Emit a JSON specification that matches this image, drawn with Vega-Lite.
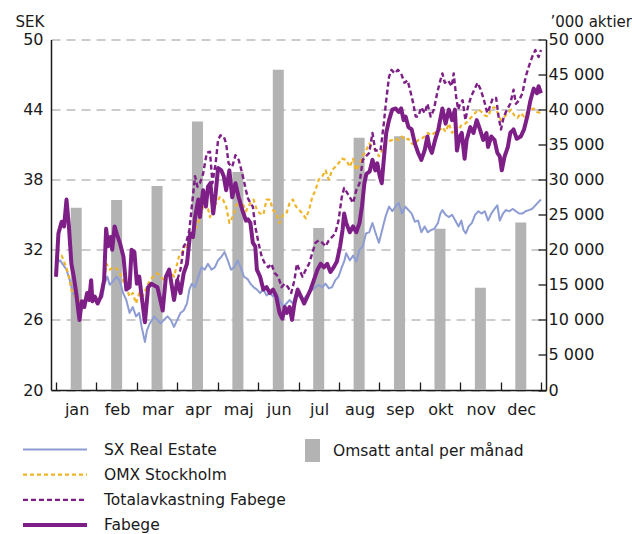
{
 "$schema": "https://vega.github.io/schema/vega-lite/v6.json",
 "width": 495, "height": 350.5,
 "autosize": {"type": "none"},
 "padding": {"left": 51, "top": 39.5, "right": 86, "bottom": 144},
 "background": "white",
 "config": {
  "view": {"stroke": null},
  "font": "DejaVu Sans",
  "axis": {"labelFont": "DejaVu Sans", "labelFontSize": 16, "labelColor": "#1a1a1a", "titleFont": "DejaVu Sans", "titleFontSize": 15, "titleFontWeight": "normal", "titleColor": "#1a1a1a", "domainColor": "#1a1a1a", "tickColor": "#1a1a1a", "domainWidth": 1.5, "tickWidth": 1.3},
  "legend": {"labelFont": "DejaVu Sans", "labelFontSize": 15.5, "labelColor": "#1a1a1a", "labelLimit": 400, "padding": 0, "offset": 0}
 },
 "datasets": {
  "staplar": [
   {"t": 0.5, "antal": 26000, "kat": "Omsatt antal per månad"},
   {"t": 1.5, "antal": 27100, "kat": "Omsatt antal per månad"},
   {"t": 2.5, "antal": 29100, "kat": "Omsatt antal per månad"},
   {"t": 3.5, "antal": 38300, "kat": "Omsatt antal per månad"},
   {"t": 4.5, "antal": 31100, "kat": "Omsatt antal per månad"},
   {"t": 5.5, "antal": 45700, "kat": "Omsatt antal per månad"},
   {"t": 6.5, "antal": 23100, "kat": "Omsatt antal per månad"},
   {"t": 7.5, "antal": 36000, "kat": "Omsatt antal per månad"},
   {"t": 8.5, "antal": 36200, "kat": "Omsatt antal per månad"},
   {"t": 9.5, "antal": 23000, "kat": "Omsatt antal per månad"},
   {"t": 10.5, "antal": 14600, "kat": "Omsatt antal per månad"},
   {"t": 11.5, "antal": 23900, "kat": "Omsatt antal per månad"}
  ],
  "linjer": [
   {"serie":"SX Real Estate","t":0,"sek":30.8},{"serie":"SX Real Estate","t":0.1,"sek":31.1},{"serie":"SX Real Estate","t":0.18,"sek":30.7},{"serie":"SX Real Estate","t":0.26,"sek":30.3},{"serie":"SX Real Estate","t":0.34,"sek":29.4},{"serie":"SX Real Estate","t":0.42,"sek":28.3},{"serie":"SX Real Estate","t":0.5,"sek":27.8},{"serie":"SX Real Estate","t":0.58,"sek":27.6},{"serie":"SX Real Estate","t":0.66,"sek":27.6},{"serie":"SX Real Estate","t":0.74,"sek":27.8},{"serie":"SX Real Estate","t":0.82,"sek":28.0},{"serie":"SX Real Estate","t":0.9,"sek":27.7},{"serie":"SX Real Estate","t":0.99,"sek":27.6},{"serie":"SX Real Estate","t":1.07,"sek":27.7},{"serie":"SX Real Estate","t":1.15,"sek":28.0},{"serie":"SX Real Estate","t":1.2,"sek":29.1},{"serie":"SX Real Estate","t":1.27,"sek":29.7},{"serie":"SX Real Estate","t":1.33,"sek":29.0},{"serie":"SX Real Estate","t":1.41,"sek":29.3},{"serie":"SX Real Estate","t":1.5,"sek":29.7},{"serie":"SX Real Estate","t":1.58,"sek":29.3},{"serie":"SX Real Estate","t":1.66,"sek":28.3},{"serie":"SX Real Estate","t":1.74,"sek":27.7},{"serie":"SX Real Estate","t":1.82,"sek":26.6},{"serie":"SX Real Estate","t":1.9,"sek":27.1},{"serie":"SX Real Estate","t":1.98,"sek":26.3},{"serie":"SX Real Estate","t":2.06,"sek":26.6},{"serie":"SX Real Estate","t":2.12,"sek":25.4},{"serie":"SX Real Estate","t":2.2,"sek":24.1},{"serie":"SX Real Estate","t":2.25,"sek":25.1},{"serie":"SX Real Estate","t":2.32,"sek":25.7},{"serie":"SX Real Estate","t":2.38,"sek":26.0},{"serie":"SX Real Estate","t":2.43,"sek":26.3},{"serie":"SX Real Estate","t":2.51,"sek":26.0},{"serie":"SX Real Estate","t":2.59,"sek":25.7},{"serie":"SX Real Estate","t":2.67,"sek":26.0},{"serie":"SX Real Estate","t":2.76,"sek":26.3},{"serie":"SX Real Estate","t":2.84,"sek":26.0},{"serie":"SX Real Estate","t":2.92,"sek":25.4},{"serie":"SX Real Estate","t":3.0,"sek":26.0},{"serie":"SX Real Estate","t":3.08,"sek":26.6},{"serie":"SX Real Estate","t":3.16,"sek":26.8},{"serie":"SX Real Estate","t":3.24,"sek":27.4},{"serie":"SX Real Estate","t":3.3,"sek":28.6},{"serie":"SX Real Estate","t":3.36,"sek":29.1},{"serie":"SX Real Estate","t":3.44,"sek":28.8},{"serie":"SX Real Estate","t":3.52,"sek":29.7},{"serie":"SX Real Estate","t":3.6,"sek":30.5},{"serie":"SX Real Estate","t":3.68,"sek":30.3},{"serie":"SX Real Estate","t":3.76,"sek":30.8},{"serie":"SX Real Estate","t":3.85,"sek":30.3},{"serie":"SX Real Estate","t":3.93,"sek":30.5},{"serie":"SX Real Estate","t":4.01,"sek":31.1},{"serie":"SX Real Estate","t":4.09,"sek":31.4},{"serie":"SX Real Estate","t":4.17,"sek":31.8},{"serie":"SX Real Estate","t":4.25,"sek":31.1},{"serie":"SX Real Estate","t":4.33,"sek":30.3},{"serie":"SX Real Estate","t":4.41,"sek":30.5},{"serie":"SX Real Estate","t":4.49,"sek":31.1},{"serie":"SX Real Estate","t":4.57,"sek":30.5},{"serie":"SX Real Estate","t":4.65,"sek":29.7},{"serie":"SX Real Estate","t":4.74,"sek":29.5},{"serie":"SX Real Estate","t":4.81,"sek":29.1},{"serie":"SX Real Estate","t":4.89,"sek":28.8},{"serie":"SX Real Estate","t":4.97,"sek":28.6},{"serie":"SX Real Estate","t":5.05,"sek":28.3},{"serie":"SX Real Estate","t":5.13,"sek":28.6},{"serie":"SX Real Estate","t":5.21,"sek":28.1},{"serie":"SX Real Estate","t":5.29,"sek":28.3},{"serie":"SX Real Estate","t":5.37,"sek":28.0},{"serie":"SX Real Estate","t":5.45,"sek":28.3},{"serie":"SX Real Estate","t":5.53,"sek":27.7},{"serie":"SX Real Estate","t":5.62,"sek":27.1},{"serie":"SX Real Estate","t":5.7,"sek":27.4},{"serie":"SX Real Estate","t":5.78,"sek":27.7},{"serie":"SX Real Estate","t":5.86,"sek":27.4},{"serie":"SX Real Estate","t":5.94,"sek":28.3},{"serie":"SX Real Estate","t":6.02,"sek":28.0},{"serie":"SX Real Estate","t":6.1,"sek":27.7},{"serie":"SX Real Estate","t":6.18,"sek":28.0},{"serie":"SX Real Estate","t":6.26,"sek":28.3},{"serie":"SX Real Estate","t":6.34,"sek":28.6},{"serie":"SX Real Estate","t":6.42,"sek":28.8},{"serie":"SX Real Estate","t":6.5,"sek":29.0},{"serie":"SX Real Estate","t":6.59,"sek":28.8},{"serie":"SX Real Estate","t":6.67,"sek":29.1},{"serie":"SX Real Estate","t":6.75,"sek":28.7},{"serie":"SX Real Estate","t":6.83,"sek":28.8},{"serie":"SX Real Estate","t":6.91,"sek":29.4},{"serie":"SX Real Estate","t":6.99,"sek":29.7},{"serie":"SX Real Estate","t":7.07,"sek":30.5},{"serie":"SX Real Estate","t":7.13,"sek":31.0},{"serie":"SX Real Estate","t":7.18,"sek":31.7},{"serie":"SX Real Estate","t":7.27,"sek":31.1},{"serie":"SX Real Estate","t":7.35,"sek":31.5},{"serie":"SX Real Estate","t":7.43,"sek":31.0},{"serie":"SX Real Estate","t":7.51,"sek":32.0},{"serie":"SX Real Estate","t":7.59,"sek":32.3},{"serie":"SX Real Estate","t":7.67,"sek":33.4},{"serie":"SX Real Estate","t":7.75,"sek":33.5},{"serie":"SX Real Estate","t":7.83,"sek":34.3},{"serie":"SX Real Estate","t":7.91,"sek":33.4},{"serie":"SX Real Estate","t":7.99,"sek":32.6},{"serie":"SX Real Estate","t":8.07,"sek":33.7},{"serie":"SX Real Estate","t":8.15,"sek":34.8},{"serie":"SX Real Estate","t":8.24,"sek":35.7},{"serie":"SX Real Estate","t":8.32,"sek":35.3},{"serie":"SX Real Estate","t":8.4,"sek":35.7},{"serie":"SX Real Estate","t":8.48,"sek":36.0},{"serie":"SX Real Estate","t":8.56,"sek":35.1},{"serie":"SX Real Estate","t":8.64,"sek":35.7},{"serie":"SX Real Estate","t":8.72,"sek":35.4},{"serie":"SX Real Estate","t":8.8,"sek":35.1},{"serie":"SX Real Estate","t":8.88,"sek":34.4},{"serie":"SX Real Estate","t":8.96,"sek":34.5},{"serie":"SX Real Estate","t":9.04,"sek":33.5},{"serie":"SX Real Estate","t":9.12,"sek":34.0},{"serie":"SX Real Estate","t":9.2,"sek":33.5},{"serie":"SX Real Estate","t":9.28,"sek":33.7},{"serie":"SX Real Estate","t":9.36,"sek":33.8},{"serie":"SX Real Estate","t":9.45,"sek":34.3},{"serie":"SX Real Estate","t":9.51,"sek":35.1},{"serie":"SX Real Estate","t":9.56,"sek":35.4},{"serie":"SX Real Estate","t":9.64,"sek":35.0},{"serie":"SX Real Estate","t":9.72,"sek":34.8},{"serie":"SX Real Estate","t":9.8,"sek":35.0},{"serie":"SX Real Estate","t":9.88,"sek":34.5},{"serie":"SX Real Estate","t":9.96,"sek":34.0},{"serie":"SX Real Estate","t":10.03,"sek":34.5},{"serie":"SX Real Estate","t":10.08,"sek":33.7},{"serie":"SX Real Estate","t":10.14,"sek":33.4},{"serie":"SX Real Estate","t":10.21,"sek":34.0},{"serie":"SX Real Estate","t":10.29,"sek":34.3},{"serie":"SX Real Estate","t":10.37,"sek":35.0},{"serie":"SX Real Estate","t":10.45,"sek":35.3},{"serie":"SX Real Estate","t":10.53,"sek":35.1},{"serie":"SX Real Estate","t":10.61,"sek":35.3},{"serie":"SX Real Estate","t":10.69,"sek":34.5},{"serie":"SX Real Estate","t":10.77,"sek":35.1},{"serie":"SX Real Estate","t":10.85,"sek":35.5},{"serie":"SX Real Estate","t":10.92,"sek":35.8},{"serie":"SX Real Estate","t":10.98,"sek":34.5},{"serie":"SX Real Estate","t":11.06,"sek":35.1},{"serie":"SX Real Estate","t":11.13,"sek":35.4},{"serie":"SX Real Estate","t":11.22,"sek":35.3},{"serie":"SX Real Estate","t":11.3,"sek":35.5},{"serie":"SX Real Estate","t":11.38,"sek":35.3},{"serie":"SX Real Estate","t":11.46,"sek":35.1},{"serie":"SX Real Estate","t":11.54,"sek":35.1},{"serie":"SX Real Estate","t":11.62,"sek":35.3},{"serie":"SX Real Estate","t":11.7,"sek":35.4},{"serie":"SX Real Estate","t":11.78,"sek":35.5},{"serie":"SX Real Estate","t":11.86,"sek":35.8},{"serie":"SX Real Estate","t":11.94,"sek":36.1},{"serie":"SX Real Estate","t":12.0,"sek":36.3},
   {"serie":"OMX Stockholm","t":0,"sek":31.1},{"serie":"OMX Stockholm","t":0.07,"sek":31.4},{"serie":"OMX Stockholm","t":0.14,"sek":31.5},{"serie":"OMX Stockholm","t":0.22,"sek":30.8},{"serie":"OMX Stockholm","t":0.3,"sek":30.0},{"serie":"OMX Stockholm","t":0.38,"sek":28.6},{"serie":"OMX Stockholm","t":0.46,"sek":28.1},{"serie":"OMX Stockholm","t":0.54,"sek":27.7},{"serie":"OMX Stockholm","t":0.62,"sek":27.6},{"serie":"OMX Stockholm","t":0.7,"sek":27.7},{"serie":"OMX Stockholm","t":0.78,"sek":28.0},{"serie":"OMX Stockholm","t":0.87,"sek":27.8},{"serie":"OMX Stockholm","t":0.95,"sek":27.6},{"serie":"OMX Stockholm","t":1.03,"sek":27.4},{"serie":"OMX Stockholm","t":1.11,"sek":28.0},{"serie":"OMX Stockholm","t":1.19,"sek":29.1},{"serie":"OMX Stockholm","t":1.25,"sek":30.8},{"serie":"OMX Stockholm","t":1.33,"sek":30.3},{"serie":"OMX Stockholm","t":1.41,"sek":30.5},{"serie":"OMX Stockholm","t":1.5,"sek":30.4},{"serie":"OMX Stockholm","t":1.58,"sek":30.0},{"serie":"OMX Stockholm","t":1.66,"sek":29.4},{"serie":"OMX Stockholm","t":1.74,"sek":28.8},{"serie":"OMX Stockholm","t":1.82,"sek":28.0},{"serie":"OMX Stockholm","t":1.9,"sek":28.3},{"serie":"OMX Stockholm","t":1.98,"sek":27.4},{"serie":"OMX Stockholm","t":2.06,"sek":28.3},{"serie":"OMX Stockholm","t":2.14,"sek":28.0},{"serie":"OMX Stockholm","t":2.22,"sek":28.6},{"serie":"OMX Stockholm","t":2.32,"sek":29.4},{"serie":"OMX Stockholm","t":2.38,"sek":29.6},{"serie":"OMX Stockholm","t":2.51,"sek":30.0},{"serie":"OMX Stockholm","t":2.59,"sek":29.7},{"serie":"OMX Stockholm","t":2.67,"sek":29.4},{"serie":"OMX Stockholm","t":2.8,"sek":30.3},{"serie":"OMX Stockholm","t":2.92,"sek":29.7},{"serie":"OMX Stockholm","t":3.04,"sek":31.4},{"serie":"OMX Stockholm","t":3.16,"sek":32.0},{"serie":"OMX Stockholm","t":3.24,"sek":32.3},{"serie":"OMX Stockholm","t":3.32,"sek":33.1},{"serie":"OMX Stockholm","t":3.4,"sek":33.7},{"serie":"OMX Stockholm","t":3.48,"sek":34.0},{"serie":"OMX Stockholm","t":3.56,"sek":34.8},{"serie":"OMX Stockholm","t":3.64,"sek":35.7},{"serie":"OMX Stockholm","t":3.73,"sek":36.0},{"serie":"OMX Stockholm","t":3.81,"sek":34.8},{"serie":"OMX Stockholm","t":3.89,"sek":35.7},{"serie":"OMX Stockholm","t":3.97,"sek":36.0},{"serie":"OMX Stockholm","t":4.05,"sek":36.5},{"serie":"OMX Stockholm","t":4.13,"sek":36.3},{"serie":"OMX Stockholm","t":4.21,"sek":35.7},{"serie":"OMX Stockholm","t":4.29,"sek":34.3},{"serie":"OMX Stockholm","t":4.37,"sek":34.8},{"serie":"OMX Stockholm","t":4.45,"sek":35.7},{"serie":"OMX Stockholm","t":4.53,"sek":36.3},{"serie":"OMX Stockholm","t":4.61,"sek":36.0},{"serie":"OMX Stockholm","t":4.7,"sek":35.3},{"serie":"OMX Stockholm","t":4.76,"sek":35.7},{"serie":"OMX Stockholm","t":4.81,"sek":36.0},{"serie":"OMX Stockholm","t":4.89,"sek":36.3},{"serie":"OMX Stockholm","t":4.97,"sek":35.4},{"serie":"OMX Stockholm","t":5.05,"sek":35.1},{"serie":"OMX Stockholm","t":5.13,"sek":35.0},{"serie":"OMX Stockholm","t":5.21,"sek":36.3},{"serie":"OMX Stockholm","t":5.29,"sek":36.3},{"serie":"OMX Stockholm","t":5.37,"sek":35.4},{"serie":"OMX Stockholm","t":5.45,"sek":35.1},{"serie":"OMX Stockholm","t":5.53,"sek":34.3},{"serie":"OMX Stockholm","t":5.62,"sek":35.0},{"serie":"OMX Stockholm","t":5.7,"sek":35.1},{"serie":"OMX Stockholm","t":5.78,"sek":36.0},{"serie":"OMX Stockholm","t":5.86,"sek":36.3},{"serie":"OMX Stockholm","t":5.94,"sek":35.7},{"serie":"OMX Stockholm","t":6.02,"sek":35.4},{"serie":"OMX Stockholm","t":6.1,"sek":35.1},{"serie":"OMX Stockholm","t":6.18,"sek":34.7},{"serie":"OMX Stockholm","t":6.26,"sek":35.4},{"serie":"OMX Stockholm","t":6.34,"sek":36.5},{"serie":"OMX Stockholm","t":6.42,"sek":37.1},{"serie":"OMX Stockholm","t":6.5,"sek":38.0},{"serie":"OMX Stockholm","t":6.59,"sek":38.3},{"serie":"OMX Stockholm","t":6.67,"sek":38.8},{"serie":"OMX Stockholm","t":6.75,"sek":38.0},{"serie":"OMX Stockholm","t":6.83,"sek":38.8},{"serie":"OMX Stockholm","t":6.91,"sek":39.1},{"serie":"OMX Stockholm","t":6.99,"sek":39.4},{"serie":"OMX Stockholm","t":7.07,"sek":39.8},{"serie":"OMX Stockholm","t":7.18,"sek":39.7},{"serie":"OMX Stockholm","t":7.27,"sek":39.1},{"serie":"OMX Stockholm","t":7.35,"sek":39.8},{"serie":"OMX Stockholm","t":7.43,"sek":38.8},{"serie":"OMX Stockholm","t":7.51,"sek":39.4},{"serie":"OMX Stockholm","t":7.59,"sek":40.0},{"serie":"OMX Stockholm","t":7.67,"sek":40.5},{"serie":"OMX Stockholm","t":7.75,"sek":41.1},{"serie":"OMX Stockholm","t":7.83,"sek":40.8},{"serie":"OMX Stockholm","t":7.91,"sek":40.5},{"serie":"OMX Stockholm","t":7.99,"sek":40.0},{"serie":"OMX Stockholm","t":8.07,"sek":40.5},{"serie":"OMX Stockholm","t":8.15,"sek":41.0},{"serie":"OMX Stockholm","t":8.24,"sek":41.3},{"serie":"OMX Stockholm","t":8.32,"sek":41.4},{"serie":"OMX Stockholm","t":8.4,"sek":41.5},{"serie":"OMX Stockholm","t":8.48,"sek":41.4},{"serie":"OMX Stockholm","t":8.56,"sek":41.7},{"serie":"OMX Stockholm","t":8.64,"sek":41.4},{"serie":"OMX Stockholm","t":8.72,"sek":41.5},{"serie":"OMX Stockholm","t":8.8,"sek":41.1},{"serie":"OMX Stockholm","t":8.88,"sek":41.0},{"serie":"OMX Stockholm","t":8.96,"sek":41.4},{"serie":"OMX Stockholm","t":9.04,"sek":41.5},{"serie":"OMX Stockholm","t":9.12,"sek":41.7},{"serie":"OMX Stockholm","t":9.2,"sek":42.0},{"serie":"OMX Stockholm","t":9.28,"sek":41.8},{"serie":"OMX Stockholm","t":9.36,"sek":42.0},{"serie":"OMX Stockholm","t":9.45,"sek":42.1},{"serie":"OMX Stockholm","t":9.56,"sek":42.5},{"serie":"OMX Stockholm","t":9.64,"sek":42.1},{"serie":"OMX Stockholm","t":9.72,"sek":42.8},{"serie":"OMX Stockholm","t":9.8,"sek":42.0},{"serie":"OMX Stockholm","t":9.88,"sek":42.5},{"serie":"OMX Stockholm","t":9.96,"sek":42.3},{"serie":"OMX Stockholm","t":10.04,"sek":42.7},{"serie":"OMX Stockholm","t":10.13,"sek":42.8},{"serie":"OMX Stockholm","t":10.21,"sek":43.1},{"serie":"OMX Stockholm","t":10.29,"sek":43.4},{"serie":"OMX Stockholm","t":10.37,"sek":43.7},{"serie":"OMX Stockholm","t":10.45,"sek":44.0},{"serie":"OMX Stockholm","t":10.53,"sek":43.8},{"serie":"OMX Stockholm","t":10.61,"sek":43.5},{"serie":"OMX Stockholm","t":10.69,"sek":43.4},{"serie":"OMX Stockholm","t":10.77,"sek":44.1},{"serie":"OMX Stockholm","t":10.85,"sek":44.2},{"serie":"OMX Stockholm","t":10.93,"sek":43.7},{"serie":"OMX Stockholm","t":11.01,"sek":43.1},{"serie":"OMX Stockholm","t":11.1,"sek":43.4},{"serie":"OMX Stockholm","t":11.18,"sek":43.7},{"serie":"OMX Stockholm","t":11.26,"sek":44.0},{"serie":"OMX Stockholm","t":11.34,"sek":43.5},{"serie":"OMX Stockholm","t":11.42,"sek":43.3},{"serie":"OMX Stockholm","t":11.5,"sek":43.7},{"serie":"OMX Stockholm","t":11.58,"sek":43.4},{"serie":"OMX Stockholm","t":11.66,"sek":43.8},{"serie":"OMX Stockholm","t":11.74,"sek":44.0},{"serie":"OMX Stockholm","t":11.82,"sek":44.1},{"serie":"OMX Stockholm","t":11.9,"sek":43.8},{"serie":"OMX Stockholm","t":12.0,"sek":43.7},
   {"serie":"Totalavkastning Fabege","t":0,"sek":29.7},{"serie":"Totalavkastning Fabege","t":0.06,"sek":33.4},{"serie":"Totalavkastning Fabege","t":0.14,"sek":34.4},{"serie":"Totalavkastning Fabege","t":0.2,"sek":34.0},{"serie":"Totalavkastning Fabege","t":0.26,"sek":36.3},{"serie":"Totalavkastning Fabege","t":0.32,"sek":34.0},{"serie":"Totalavkastning Fabege","t":0.38,"sek":30.8},{"serie":"Totalavkastning Fabege","t":0.44,"sek":29.7},{"serie":"Totalavkastning Fabege","t":0.5,"sek":28.3},{"serie":"Totalavkastning Fabege","t":0.58,"sek":26.0},{"serie":"Totalavkastning Fabege","t":0.64,"sek":27.6},{"serie":"Totalavkastning Fabege","t":0.7,"sek":27.1},{"serie":"Totalavkastning Fabege","t":0.77,"sek":28.3},{"serie":"Totalavkastning Fabege","t":0.82,"sek":27.7},{"serie":"Totalavkastning Fabege","t":0.87,"sek":29.4},{"serie":"Totalavkastning Fabege","t":0.9,"sek":27.6},{"serie":"Totalavkastning Fabege","t":0.96,"sek":28.0},{"serie":"Totalavkastning Fabege","t":1.03,"sek":27.4},{"serie":"Totalavkastning Fabege","t":1.11,"sek":28.0},{"serie":"Totalavkastning Fabege","t":1.19,"sek":29.4},{"serie":"Totalavkastning Fabege","t":1.24,"sek":33.8},{"serie":"Totalavkastning Fabege","t":1.29,"sek":32.3},{"serie":"Totalavkastning Fabege","t":1.35,"sek":33.1},{"serie":"Totalavkastning Fabege","t":1.39,"sek":32.0},{"serie":"Totalavkastning Fabege","t":1.45,"sek":34.0},{"serie":"Totalavkastning Fabege","t":1.51,"sek":33.3},{"serie":"Totalavkastning Fabege","t":1.58,"sek":32.6},{"serie":"Totalavkastning Fabege","t":1.67,"sek":31.4},{"serie":"Totalavkastning Fabege","t":1.74,"sek":28.6},{"serie":"Totalavkastning Fabege","t":1.82,"sek":28.8},{"serie":"Totalavkastning Fabege","t":1.87,"sek":32.0},{"serie":"Totalavkastning Fabege","t":1.94,"sek":31.8},{"serie":"Totalavkastning Fabege","t":2.0,"sek":29.1},{"serie":"Totalavkastning Fabege","t":2.06,"sek":29.7},{"serie":"Totalavkastning Fabege","t":2.12,"sek":28.0},{"serie":"Totalavkastning Fabege","t":2.2,"sek":25.8},{"serie":"Totalavkastning Fabege","t":2.28,"sek":28.8},{"serie":"Totalavkastning Fabege","t":2.36,"sek":29.1},{"serie":"Totalavkastning Fabege","t":2.51,"sek":28.8},{"serie":"Totalavkastning Fabege","t":2.64,"sek":26.8},{"serie":"Totalavkastning Fabege","t":2.72,"sek":29.7},{"serie":"Totalavkastning Fabege","t":2.8,"sek":30.3},{"serie":"Totalavkastning Fabege","t":2.88,"sek":28.6},{"serie":"Totalavkastning Fabege","t":2.92,"sek":27.7},{"serie":"Totalavkastning Fabege","t":3.0,"sek":29.4},{"serie":"Totalavkastning Fabege","t":3.08,"sek":30.3},{"serie":"Totalavkastning Fabege","t":3.16,"sek":32.3},{"serie":"Totalavkastning Fabege","t":3.22,"sek":32.6},{"serie":"Totalavkastning Fabege","t":3.3,"sek":33.7},{"serie":"Totalavkastning Fabege","t":3.36,"sek":35.7},{"serie":"Totalavkastning Fabege","t":3.44,"sek":38.3},{"serie":"Totalavkastning Fabege","t":3.5,"sek":37.4},{"serie":"Totalavkastning Fabege","t":3.56,"sek":37.7},{"serie":"Totalavkastning Fabege","t":3.64,"sek":38.5},{"serie":"Totalavkastning Fabege","t":3.73,"sek":40.3},{"serie":"Totalavkastning Fabege","t":3.81,"sek":40.4},{"serie":"Totalavkastning Fabege","t":3.87,"sek":37.7},{"serie":"Totalavkastning Fabege","t":3.95,"sek":39.4},{"serie":"Totalavkastning Fabege","t":4.01,"sek":41.4},{"serie":"Totalavkastning Fabege","t":4.07,"sek":41.8},{"serie":"Totalavkastning Fabege","t":4.15,"sek":41.7},{"serie":"Totalavkastning Fabege","t":4.21,"sek":41.1},{"serie":"Totalavkastning Fabege","t":4.27,"sek":39.4},{"serie":"Totalavkastning Fabege","t":4.36,"sek":39.1},{"serie":"Totalavkastning Fabege","t":4.44,"sek":40.1},{"serie":"Totalavkastning Fabege","t":4.52,"sek":39.7},{"serie":"Totalavkastning Fabege","t":4.61,"sek":38.5},{"serie":"Totalavkastning Fabege","t":4.7,"sek":37.1},{"serie":"Totalavkastning Fabege","t":4.75,"sek":36.4},{"serie":"Totalavkastning Fabege","t":4.81,"sek":36.0},{"serie":"Totalavkastning Fabege","t":4.87,"sek":35.7},{"serie":"Totalavkastning Fabege","t":4.93,"sek":34.0},{"serie":"Totalavkastning Fabege","t":5.01,"sek":32.6},{"serie":"Totalavkastning Fabege","t":5.09,"sek":31.4},{"serie":"Totalavkastning Fabege","t":5.17,"sek":30.8},{"serie":"Totalavkastning Fabege","t":5.25,"sek":30.5},{"serie":"Totalavkastning Fabege","t":5.33,"sek":30.8},{"serie":"Totalavkastning Fabege","t":5.41,"sek":30.0},{"serie":"Totalavkastning Fabege","t":5.5,"sek":29.7},{"serie":"Totalavkastning Fabege","t":5.58,"sek":28.8},{"serie":"Totalavkastning Fabege","t":5.66,"sek":29.1},{"serie":"Totalavkastning Fabege","t":5.74,"sek":28.8},{"serie":"Totalavkastning Fabege","t":5.82,"sek":28.3},{"serie":"Totalavkastning Fabege","t":5.9,"sek":29.4},{"serie":"Totalavkastning Fabege","t":5.96,"sek":30.8},{"serie":"Totalavkastning Fabege","t":6.02,"sek":30.3},{"serie":"Totalavkastning Fabege","t":6.1,"sek":29.7},{"serie":"Totalavkastning Fabege","t":6.18,"sek":30.3},{"serie":"Totalavkastning Fabege","t":6.26,"sek":30.8},{"serie":"Totalavkastning Fabege","t":6.34,"sek":31.7},{"serie":"Totalavkastning Fabege","t":6.42,"sek":32.6},{"serie":"Totalavkastning Fabege","t":6.5,"sek":32.8},{"serie":"Totalavkastning Fabege","t":6.59,"sek":32.6},{"serie":"Totalavkastning Fabege","t":6.67,"sek":32.3},{"serie":"Totalavkastning Fabege","t":6.75,"sek":32.8},{"serie":"Totalavkastning Fabege","t":6.83,"sek":33.1},{"serie":"Totalavkastning Fabege","t":6.91,"sek":33.4},{"serie":"Totalavkastning Fabege","t":6.99,"sek":34.5},{"serie":"Totalavkastning Fabege","t":7.07,"sek":36.5},{"serie":"Totalavkastning Fabege","t":7.13,"sek":37.3},{"serie":"Totalavkastning Fabege","t":7.27,"sek":36.5},{"serie":"Totalavkastning Fabege","t":7.35,"sek":36.0},{"serie":"Totalavkastning Fabege","t":7.43,"sek":37.1},{"serie":"Totalavkastning Fabege","t":7.51,"sek":37.7},{"serie":"Totalavkastning Fabege","t":7.59,"sek":39.7},{"serie":"Totalavkastning Fabege","t":7.67,"sek":40.0},{"serie":"Totalavkastning Fabege","t":7.75,"sek":40.3},{"serie":"Totalavkastning Fabege","t":7.83,"sek":42.0},{"serie":"Totalavkastning Fabege","t":7.9,"sek":40.5},{"serie":"Totalavkastning Fabege","t":7.98,"sek":40.5},{"serie":"Totalavkastning Fabege","t":8.03,"sek":40.5},{"serie":"Totalavkastning Fabege","t":8.11,"sek":42.8},{"serie":"Totalavkastning Fabege","t":8.17,"sek":44.8},{"serie":"Totalavkastning Fabege","t":8.24,"sek":46.8},{"serie":"Totalavkastning Fabege","t":8.3,"sek":47.4},{"serie":"Totalavkastning Fabege","t":8.38,"sek":47.1},{"serie":"Totalavkastning Fabege","t":8.46,"sek":47.4},{"serie":"Totalavkastning Fabege","t":8.54,"sek":47.1},{"serie":"Totalavkastning Fabege","t":8.62,"sek":46.3},{"serie":"Totalavkastning Fabege","t":8.7,"sek":46.5},{"serie":"Totalavkastning Fabege","t":8.78,"sek":45.4},{"serie":"Totalavkastning Fabege","t":8.84,"sek":44.5},{"serie":"Totalavkastning Fabege","t":8.9,"sek":43.4},{"serie":"Totalavkastning Fabege","t":8.96,"sek":43.4},{"serie":"Totalavkastning Fabege","t":9.04,"sek":44.2},{"serie":"Totalavkastning Fabege","t":9.12,"sek":43.7},{"serie":"Totalavkastning Fabege","t":9.19,"sek":44.5},{"serie":"Totalavkastning Fabege","t":9.27,"sek":43.4},{"serie":"Totalavkastning Fabege","t":9.35,"sek":44.0},{"serie":"Totalavkastning Fabege","t":9.43,"sek":45.4},{"serie":"Totalavkastning Fabege","t":9.51,"sek":46.5},{"serie":"Totalavkastning Fabege","t":9.56,"sek":47.1},{"serie":"Totalavkastning Fabege","t":9.62,"sek":46.3},{"serie":"Totalavkastning Fabege","t":9.7,"sek":46.5},{"serie":"Totalavkastning Fabege","t":9.79,"sek":46.0},{"serie":"Totalavkastning Fabege","t":9.84,"sek":47.1},{"serie":"Totalavkastning Fabege","t":9.9,"sek":45.1},{"serie":"Totalavkastning Fabege","t":9.95,"sek":44.0},{"serie":"Totalavkastning Fabege","t":10.0,"sek":44.5},{"serie":"Totalavkastning Fabege","t":10.06,"sek":44.8},{"serie":"Totalavkastning Fabege","t":10.13,"sek":43.1},{"serie":"Totalavkastning Fabege","t":10.19,"sek":44.2},{"serie":"Totalavkastning Fabege","t":10.27,"sek":45.1},{"serie":"Totalavkastning Fabege","t":10.35,"sek":45.7},{"serie":"Totalavkastning Fabege","t":10.43,"sek":46.3},{"serie":"Totalavkastning Fabege","t":10.51,"sek":45.7},{"serie":"Totalavkastning Fabege","t":10.59,"sek":44.8},{"serie":"Totalavkastning Fabege","t":10.67,"sek":43.7},{"serie":"Totalavkastning Fabege","t":10.73,"sek":44.2},{"serie":"Totalavkastning Fabege","t":10.81,"sek":45.0},{"serie":"Totalavkastning Fabege","t":10.89,"sek":45.0},{"serie":"Totalavkastning Fabege","t":10.95,"sek":43.4},{"serie":"Totalavkastning Fabege","t":11.01,"sek":42.3},{"serie":"Totalavkastning Fabege","t":11.08,"sek":43.4},{"serie":"Totalavkastning Fabege","t":11.16,"sek":44.0},{"serie":"Totalavkastning Fabege","t":11.24,"sek":44.5},{"serie":"Totalavkastning Fabege","t":11.32,"sek":45.7},{"serie":"Totalavkastning Fabege","t":11.38,"sek":44.5},{"serie":"Totalavkastning Fabege","t":11.46,"sek":44.8},{"serie":"Totalavkastning Fabege","t":11.54,"sek":45.4},{"serie":"Totalavkastning Fabege","t":11.62,"sek":46.8},{"serie":"Totalavkastning Fabege","t":11.7,"sek":47.7},{"serie":"Totalavkastning Fabege","t":11.78,"sek":48.5},{"serie":"Totalavkastning Fabege","t":11.86,"sek":49.1},{"serie":"Totalavkastning Fabege","t":11.94,"sek":48.5},{"serie":"Totalavkastning Fabege","t":12.0,"sek":49.1},
   {"serie":"Fabege","t":0,"sek":29.7},{"serie":"Fabege","t":0.06,"sek":33.4},{"serie":"Fabege","t":0.14,"sek":34.4},{"serie":"Fabege","t":0.2,"sek":34.0},{"serie":"Fabege","t":0.26,"sek":36.3},{"serie":"Fabege","t":0.32,"sek":34.0},{"serie":"Fabege","t":0.38,"sek":30.8},{"serie":"Fabege","t":0.44,"sek":29.7},{"serie":"Fabege","t":0.5,"sek":28.3},{"serie":"Fabege","t":0.58,"sek":26.0},{"serie":"Fabege","t":0.64,"sek":27.6},{"serie":"Fabege","t":0.7,"sek":27.1},{"serie":"Fabege","t":0.77,"sek":28.3},{"serie":"Fabege","t":0.82,"sek":27.7},{"serie":"Fabege","t":0.87,"sek":29.4},{"serie":"Fabege","t":0.9,"sek":27.6},{"serie":"Fabege","t":0.96,"sek":28.0},{"serie":"Fabege","t":1.03,"sek":27.4},{"serie":"Fabege","t":1.11,"sek":28.0},{"serie":"Fabege","t":1.19,"sek":29.4},{"serie":"Fabege","t":1.24,"sek":33.8},{"serie":"Fabege","t":1.29,"sek":32.3},{"serie":"Fabege","t":1.35,"sek":33.1},{"serie":"Fabege","t":1.39,"sek":32.0},{"serie":"Fabege","t":1.45,"sek":34.0},{"serie":"Fabege","t":1.51,"sek":33.3},{"serie":"Fabege","t":1.58,"sek":32.6},{"serie":"Fabege","t":1.67,"sek":31.4},{"serie":"Fabege","t":1.74,"sek":28.6},{"serie":"Fabege","t":1.82,"sek":28.8},{"serie":"Fabege","t":1.87,"sek":32.0},{"serie":"Fabege","t":1.94,"sek":31.8},{"serie":"Fabege","t":2.0,"sek":29.1},{"serie":"Fabege","t":2.06,"sek":29.7},{"serie":"Fabege","t":2.12,"sek":28.0},{"serie":"Fabege","t":2.2,"sek":25.8},{"serie":"Fabege","t":2.28,"sek":28.8},{"serie":"Fabege","t":2.36,"sek":29.1},{"serie":"Fabege","t":2.51,"sek":28.8},{"serie":"Fabege","t":2.64,"sek":26.8},{"serie":"Fabege","t":2.72,"sek":29.7},{"serie":"Fabege","t":2.8,"sek":30.3},{"serie":"Fabege","t":2.88,"sek":28.6},{"serie":"Fabege","t":2.92,"sek":27.7},{"serie":"Fabege","t":3.0,"sek":29.4},{"serie":"Fabege","t":3.08,"sek":28.3},{"serie":"Fabege","t":3.16,"sek":30.0},{"serie":"Fabege","t":3.24,"sek":30.8},{"serie":"Fabege","t":3.32,"sek":33.4},{"serie":"Fabege","t":3.39,"sek":33.1},{"serie":"Fabege","t":3.44,"sek":34.8},{"serie":"Fabege","t":3.52,"sek":36.3},{"serie":"Fabege","t":3.56,"sek":34.8},{"serie":"Fabege","t":3.64,"sek":37.1},{"serie":"Fabege","t":3.71,"sek":35.7},{"serie":"Fabege","t":3.76,"sek":37.4},{"serie":"Fabege","t":3.82,"sek":37.7},{"serie":"Fabege","t":3.89,"sek":35.1},{"serie":"Fabege","t":3.95,"sek":36.8},{"serie":"Fabege","t":4.01,"sek":39.0},{"serie":"Fabege","t":4.09,"sek":38.8},{"serie":"Fabege","t":4.15,"sek":38.3},{"serie":"Fabege","t":4.21,"sek":37.1},{"serie":"Fabege","t":4.29,"sek":38.8},{"serie":"Fabege","t":4.36,"sek":36.5},{"serie":"Fabege","t":4.44,"sek":37.7},{"serie":"Fabege","t":4.52,"sek":36.5},{"serie":"Fabege","t":4.61,"sek":35.4},{"serie":"Fabege","t":4.7,"sek":34.5},{"serie":"Fabege","t":4.75,"sek":34.6},{"serie":"Fabege","t":4.81,"sek":34.3},{"serie":"Fabege","t":4.87,"sek":32.6},{"serie":"Fabege","t":4.93,"sek":32.3},{"serie":"Fabege","t":4.97,"sek":30.3},{"serie":"Fabege","t":5.05,"sek":29.7},{"serie":"Fabege","t":5.13,"sek":28.6},{"serie":"Fabege","t":5.21,"sek":28.8},{"serie":"Fabege","t":5.29,"sek":28.3},{"serie":"Fabege","t":5.37,"sek":28.6},{"serie":"Fabege","t":5.45,"sek":28.0},{"serie":"Fabege","t":5.53,"sek":26.6},{"serie":"Fabege","t":5.6,"sek":26.1},{"serie":"Fabege","t":5.66,"sek":27.1},{"serie":"Fabege","t":5.71,"sek":26.6},{"serie":"Fabege","t":5.78,"sek":27.1},{"serie":"Fabege","t":5.84,"sek":26.0},{"serie":"Fabege","t":5.9,"sek":27.4},{"serie":"Fabege","t":5.98,"sek":28.6},{"serie":"Fabege","t":6.06,"sek":28.0},{"serie":"Fabege","t":6.14,"sek":27.4},{"serie":"Fabege","t":6.22,"sek":28.0},{"serie":"Fabege","t":6.3,"sek":28.6},{"serie":"Fabege","t":6.38,"sek":29.4},{"serie":"Fabege","t":6.47,"sek":30.3},{"serie":"Fabege","t":6.55,"sek":30.8},{"serie":"Fabege","t":6.63,"sek":30.5},{"serie":"Fabege","t":6.71,"sek":30.8},{"serie":"Fabege","t":6.79,"sek":30.1},{"serie":"Fabege","t":6.87,"sek":30.5},{"serie":"Fabege","t":6.95,"sek":31.0},{"serie":"Fabege","t":7.03,"sek":32.3},{"serie":"Fabege","t":7.09,"sek":33.7},{"serie":"Fabege","t":7.13,"sek":35.1},{"serie":"Fabege","t":7.18,"sek":34.3},{"serie":"Fabege","t":7.27,"sek":33.5},{"serie":"Fabege","t":7.35,"sek":34.0},{"serie":"Fabege","t":7.43,"sek":33.5},{"serie":"Fabege","t":7.51,"sek":34.3},{"serie":"Fabege","t":7.57,"sek":35.7},{"serie":"Fabege","t":7.63,"sek":37.7},{"serie":"Fabege","t":7.68,"sek":38.5},{"serie":"Fabege","t":7.76,"sek":38.7},{"serie":"Fabege","t":7.83,"sek":39.7},{"serie":"Fabege","t":7.9,"sek":38.8},{"serie":"Fabege","t":7.95,"sek":39.4},{"serie":"Fabege","t":8.01,"sek":38.3},{"serie":"Fabege","t":8.06,"sek":37.7},{"serie":"Fabege","t":8.11,"sek":39.7},{"serie":"Fabege","t":8.17,"sek":42.0},{"serie":"Fabege","t":8.24,"sek":43.1},{"serie":"Fabege","t":8.32,"sek":44.0},{"serie":"Fabege","t":8.4,"sek":44.1},{"serie":"Fabege","t":8.48,"sek":43.8},{"serie":"Fabege","t":8.54,"sek":44.1},{"serie":"Fabege","t":8.6,"sek":43.1},{"serie":"Fabege","t":8.65,"sek":43.4},{"serie":"Fabege","t":8.72,"sek":42.5},{"serie":"Fabege","t":8.8,"sek":42.3},{"serie":"Fabege","t":8.88,"sek":41.1},{"serie":"Fabege","t":8.96,"sek":40.3},{"serie":"Fabege","t":9.04,"sek":39.7},{"serie":"Fabege","t":9.12,"sek":40.5},{"serie":"Fabege","t":9.19,"sek":41.7},{"serie":"Fabege","t":9.24,"sek":40.8},{"serie":"Fabege","t":9.3,"sek":40.3},{"serie":"Fabege","t":9.38,"sek":41.4},{"serie":"Fabege","t":9.46,"sek":42.3},{"serie":"Fabege","t":9.56,"sek":44.1},{"serie":"Fabege","t":9.64,"sek":42.8},{"serie":"Fabege","t":9.72,"sek":44.0},{"serie":"Fabege","t":9.8,"sek":43.1},{"serie":"Fabege","t":9.87,"sek":44.0},{"serie":"Fabege","t":9.92,"sek":40.5},{"serie":"Fabege","t":9.99,"sek":41.7},{"serie":"Fabege","t":10.04,"sek":42.0},{"serie":"Fabege","t":10.11,"sek":39.8},{"serie":"Fabege","t":10.16,"sek":41.4},{"serie":"Fabege","t":10.25,"sek":42.5},{"serie":"Fabege","t":10.33,"sek":42.0},{"serie":"Fabege","t":10.41,"sek":43.1},{"serie":"Fabege","t":10.49,"sek":42.3},{"serie":"Fabege","t":10.57,"sek":41.4},{"serie":"Fabege","t":10.65,"sek":42.0},{"serie":"Fabege","t":10.69,"sek":40.8},{"serie":"Fabege","t":10.77,"sek":41.7},{"serie":"Fabege","t":10.85,"sek":41.4},{"serie":"Fabege","t":10.92,"sek":40.3},{"serie":"Fabege","t":10.98,"sek":40.0},{"serie":"Fabege","t":11.03,"sek":38.8},{"serie":"Fabege","t":11.1,"sek":40.0},{"serie":"Fabege","t":11.18,"sek":40.8},{"serie":"Fabege","t":11.24,"sek":42.0},{"serie":"Fabege","t":11.32,"sek":42.3},{"serie":"Fabege","t":11.4,"sek":41.5},{"serie":"Fabege","t":11.5,"sek":41.7},{"serie":"Fabege","t":11.58,"sek":42.3},{"serie":"Fabege","t":11.66,"sek":43.4},{"serie":"Fabege","t":11.74,"sek":44.8},{"serie":"Fabege","t":11.82,"sek":45.8},{"serie":"Fabege","t":11.9,"sek":45.4},{"serie":"Fabege","t":11.94,"sek":46.0},{"serie":"Fabege","t":12.0,"sek":45.4}
  ]
 },
 "layer": [
  {
   "data": {"name": "staplar"},
   "mark": {"type": "bar", "width": 11},
   "encoding": {
    "x": {"field": "t", "type": "quantitative", "title": null,
      "scale": {"domain": [0, 12], "nice": false, "zero": false},
      "axis": {"values": [0,1,2,3,4,5,6,7,8,9,10,11,12], "grid": false, "tickSize": -8, "labelPadding": 19, "labelOffset": 20.6, "labelFlush": false, "labelOverlap": false, "labelExpr": "datum.value < 12 ? ['jan','feb','mar','apr','maj','jun','jul','aug','sep','okt','nov','dec'][datum.value] : ''"}},
    "y": {"field": "antal", "type": "quantitative",
      "scale": {"domain": [0, 50000], "nice": false},
      "axis": {"orient": "right", "values": [0,5000,10000,15000,20000,25000,30000,35000,40000,45000,50000], "grid": false, "tickSize": -8, "labelPadding": 10, "labelOverlap": false, "labelFlush": false, "labelExpr": "replace(format(datum.value, ','), ',', ' ')", "title": "’000 aktier", "titleAngle": 0, "titleAlign": "left", "titleBaseline": "alphabetic", "titleX": 4, "titleY": -13}},
    "fill": {"field": "kat", "type": "nominal", "scale": {"range": ["#b3b3b3"]},
      "legend": {"title": null, "orient": "none", "legendX": 250, "legendY": 399.5, "symbolType": "M-0.65,-1H0.65V1H-0.65Z", "symbolSize": 529, "symbolStrokeWidth": 0, "symbolOpacity": 1, "labelOffset": 9}}
   }
  },
  {
   "data": {"name": "linjer"},
   "mark": {"type": "line", "strokeJoin": "round"},
   "encoding": {
    "x": {"field": "t", "type": "quantitative"},
    "y": {"field": "sek", "type": "quantitative",
      "scale": {"domain": [20, 50], "nice": false, "zero": false},
      "axis": {"orient": "left", "values": [20,26,32,38,44,50], "ticks": false, "grid": true, "gridDash": [9,6], "gridColor": "#9a9a9a", "gridWidth": 1.2, "labelPadding": 8, "labelOverlap": false, "labelFlush": false, "title": "SEK", "titleAngle": 0, "titleAlign": "left", "titleBaseline": "alphabetic", "titleX": -36, "titleY": -13}},
    "stroke": {"field": "serie", "type": "nominal",
      "scale": {"domain": ["SX Real Estate", "OMX Stockholm", "Totalavkastning Fabege", "Fabege"], "range": ["#8e9cd4", "#f0b429", "#7d1f86", "#7d1f86"]},
      "legend": {"title": null, "orient": "none", "legendX": -30, "legendY": 402, "symbolType": "stroke", "symbolSize": 4096, "clipHeight": 16, "rowPadding": 8.2, "labelOffset": 15, "direction": "vertical"}},
    "strokeDash": {"field": "serie", "type": "nominal",
      "scale": {"domain": ["SX Real Estate", "OMX Stockholm", "Totalavkastning Fabege", "Fabege"], "range": [[1,0],[4,3],[5,3],[1,0]]}},
    "strokeWidth": {"field": "serie", "type": "nominal",
      "scale": {"type": "ordinal", "domain": ["SX Real Estate", "OMX Stockholm", "Totalavkastning Fabege", "Fabege"], "range": [2, 2.2, 2.4, 4]}}
   }
  }
 ],
 "resolve": {"scale": {"y": "independent"}, "axis": {"y": "independent"}}
}
